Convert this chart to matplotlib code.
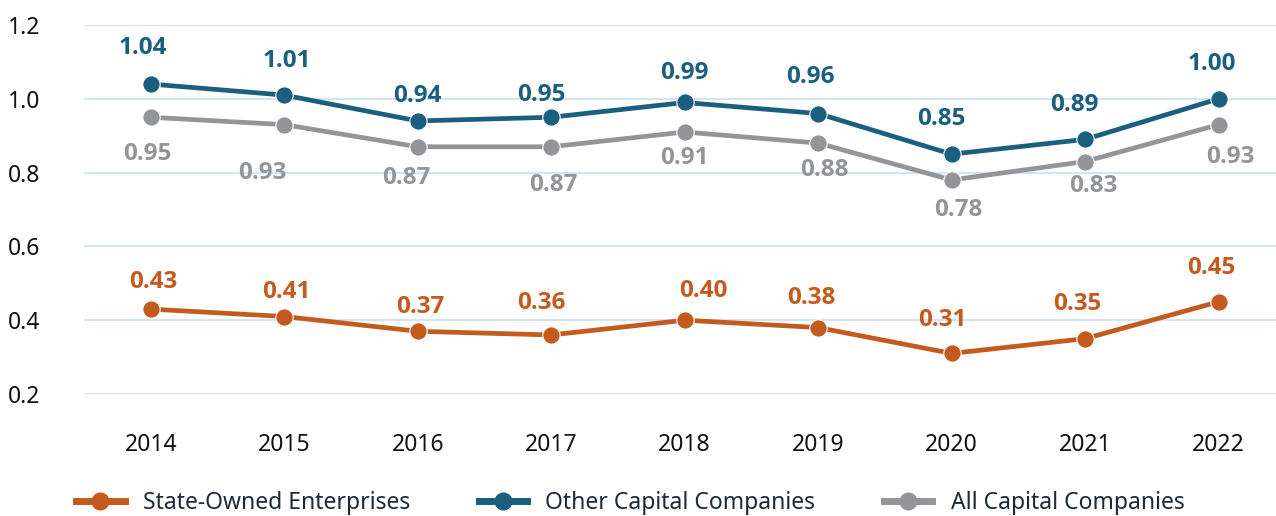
import matplotlib
matplotlib.use("Agg")
import matplotlib.pyplot as plt
from matplotlib.lines import Line2D

years = ["2014", "2015", "2016", "2017", "2018", "2019", "2020", "2021", "2022"]
soe = [0.43, 0.41, 0.37, 0.36, 0.40, 0.38, 0.31, 0.35, 0.45]
other = [1.04, 1.01, 0.94, 0.95, 0.99, 0.96, 0.85, 0.89, 1.00]
allc = [0.95, 0.93, 0.87, 0.87, 0.91, 0.88, 0.78, 0.83, 0.93]
yticks = [0.2, 0.4, 0.6, 0.8, 1.0, 1.2]

# label placement offsets in pixels (layout only)
soe_off = [(3, 27), (2, 25), (3, 24), (-10, 32), (19, 29), (-7, 30), (-9, 33), (-8, 35), (-7, 34)]
other_off = [(-8, 36), (3, 34), (0, 25), (-10, 22), (0, 29), (-8, 37), (-10, 35), (-11, 34), (-7, 35)]
all_off = [(-3, -37), (-22, -48), (-11, -31), (2, -38), (0, -26), (6, -27), (7, -30), (8, -24), (12, -32)]

plt.rcParams['font.family'] = ['Noto Sans', 'DejaVu Sans']

c_orange = "#C55A1E"
c_blue = "#1A5F80"
c_gray = "#939598"
c_grid = "#D3E4F4"
c_text = "#1B2A3A"

fig = plt.figure(figsize=(12.76, 5.16), dpi=100)
ax = fig.add_axes([84/1276, (516-394)/516, 1 - 84/1276, (394-25)/516])
x = list(range(len(years)))

series = [(soe, c_orange, "State-Owned Enterprises", soe_off),
          (other, c_blue, "Other Capital Companies", other_off),
          (allc, c_gray, "All Capital Companies", all_off)]
for vals, col, lab, offs in series:
    ax.plot(x, vals, color=col, lw=3.4, marker='o', ms=12.5, mec='white', mew=0.8,
            solid_capstyle='round', zorder=3, clip_on=False)
    for xi, v, (dx, dy) in zip(x, vals, offs):
        ax.annotate(f"{v:.2f}", (xi, v), xytext=(dx, dy), textcoords='offset pixels',
                    ha='center', va='center', fontsize=17.5, fontweight='bold',
                    family=['Open Sans', 'DejaVu Sans'], color=col)

ax.set_ylim(0.2, 1.2)
ax.set_xlim(-0.5, 8.43)
ax.set_yticks(yticks)
ax.set_yticklabels([f"{t:.1f}" for t in yticks])
ax.set_xticks(x)
ax.set_xticklabels(years)
ax.grid(axis='y', color=c_grid, lw=1.5)
ax.set_axisbelow(True)
for s in ax.spines.values():
    s.set_visible(False)
ax.tick_params(axis='both', length=0, labelsize=16.5, colors='#111111')
ax.tick_params(axis='x', pad=28)
ax.tick_params(axis='y', pad=0)
for lbl in ax.get_yticklabels():
    lbl.set_horizontalalignment('left')
    lbl.set_x(-84/1192 + 0.007)

handles = [Line2D([0], [0], color=c, lw=5, marker='o', ms=12, mec=c) for _, c, _, _ in series]
labels = [l for _, _, l, _ in series]
leg = fig.legend(handles, labels, loc='center', bbox_to_anchor=(0.494, 0.025), ncol=3,
                 frameon=False, fontsize=16.5, handlelength=2.1, columnspacing=3.0,
                 handletextpad=0.8, labelcolor=c_text)

fig.savefig("out.png", dpi=100)
